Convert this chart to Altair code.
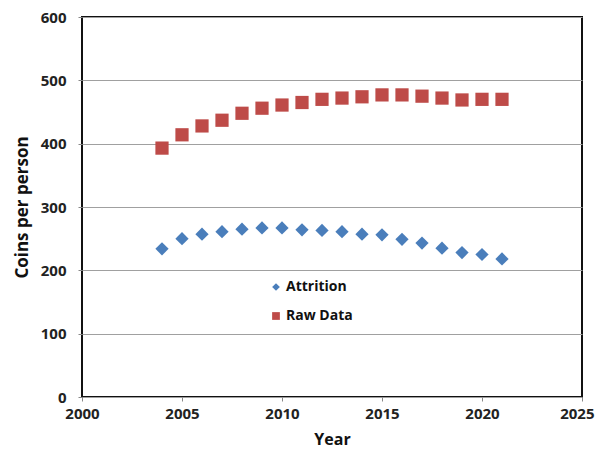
import altair as alt
import pandas as pd

years = list(range(2004, 2022))
attrition = [234, 250, 257, 261, 265, 267, 267, 264, 263, 261, 257, 256, 249, 243, 235, 228, 225, 218]
raw_data = [393, 414, 428, 437, 448, 456, 461, 465, 470, 472, 474, 477, 477, 475, 472, 469, 470, 470]
series = ["Attrition", "Raw Data"]

df = pd.DataFrame({
    "Year": years * 2,
    "Value": attrition + raw_data,
    "Series": [series[0]] * len(years) + [series[1]] * len(years),
})

FONT = "Open Sans"

chart = alt.Chart(df).mark_point(filled=True, opacity=1, size=175).encode(
    x=alt.X("Year:Q", scale=alt.Scale(domain=[2000, 2025], nice=False),
            axis=alt.Axis(values=[2000, 2005, 2010, 2015, 2020, 2025], format="d",
                          title="Year", grid=False, labelFlush=False,
                          labelAlign={"condition": {"test": "datum.value == 2025", "value": "right"},
                                      "value": "center"},
                          labelOffset={"condition": {"test": "datum.value == 2025", "value": 12},
                                       "value": 0},
                          labelPadding=5, titlePadding=10, titleFontSize=16)),
    y=alt.Y("Value:Q", scale=alt.Scale(domain=[0, 600], nice=False),
            axis=alt.Axis(values=[0, 100, 200, 300, 400, 500, 600], title="Coins per person",
                          grid=True, labelFlush=False, labelPadding=12, titlePadding=9)),
    color=alt.Color("Series:N", scale=alt.Scale(domain=series, range=["#4A7EBB", "#BE4B48"]),
                    legend=alt.Legend(title=None, orient="none", legendX=187, legendY=263,
                                      symbolSize=60, labelFontSize=14, labelFont=FONT,
                                      labelFontWeight="bold", labelColor="#111",
                                      rowPadding=15, symbolStrokeWidth=0, labelOffset=3)),
    shape=alt.Shape("Series:N", scale=alt.Scale(domain=series, range=["diamond", "square"]),
                    legend=None),
    stroke=alt.value(None),
).properties(
    width=500, height=380,
    autosize=alt.AutoSizeParams(type="none"),
    padding={"left": 74, "top": 9, "right": 13, "bottom": 53},
).configure_view(
    stroke="#111", strokeWidth=2
).configure_axis(
    labelFont=FONT, labelFontSize=15, labelFontWeight="bold", labelColor="#222",
    titleFont=FONT, titleFontSize=17, titleFontWeight="bold", titleColor="#111",
    domain=False, tickColor="#888", tickSize=4, gridColor="#A0A0A0", gridWidth=1,
)

chart.save("out.html", embed_options={"renderer": "svg", "actions": False})
